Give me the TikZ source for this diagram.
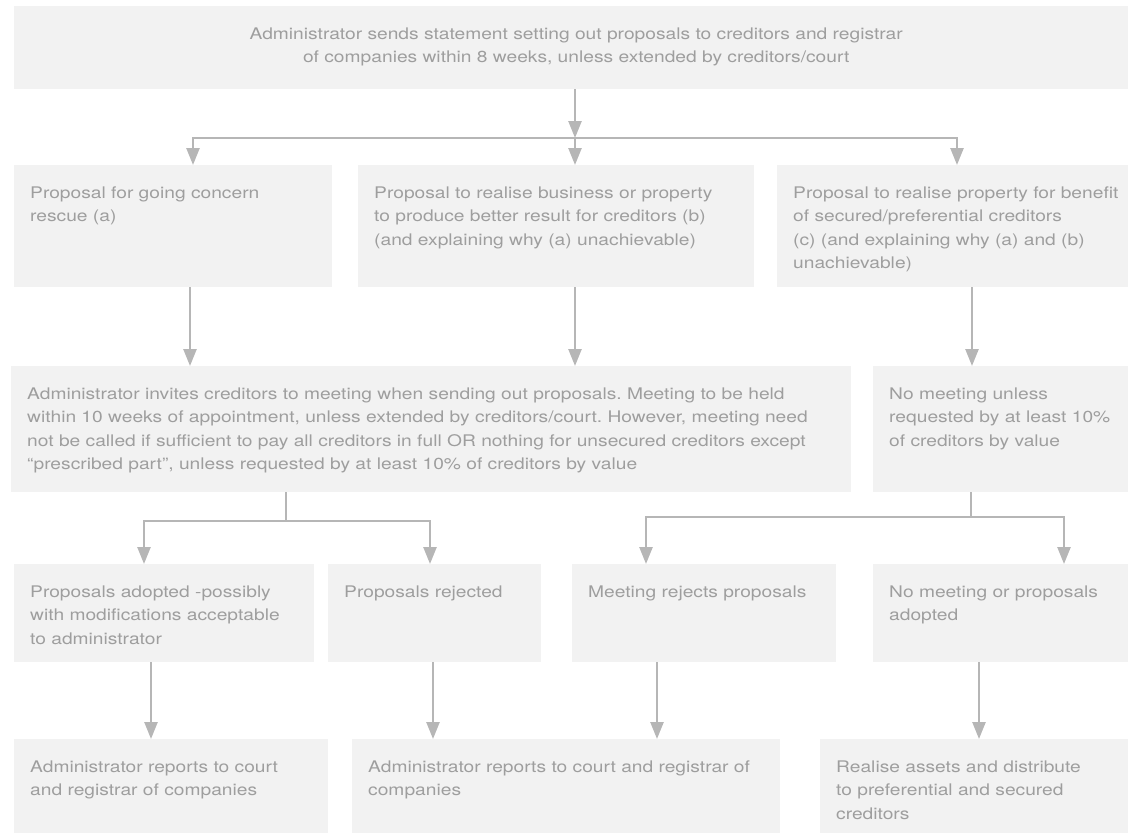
\documentclass[tikz,border=0pt]{standalone}
\usepackage{fontspec}
\setmainfont{TeX Gyre Heros}[FakeStretch=1.2]
\usepackage{xcolor}
\usepackage{tikz}
\usetikzlibrary{arrows.meta}
\frenchspacing
\definecolor{boxfill}{RGB}{242,242,242}
\definecolor{txtgray}{RGB}{158,158,158}
\definecolor{linegray}{RGB}{182,182,182}
\tikzstyle{stepbox} = [fill=boxfill, text=txtgray, anchor=north west, align=left, inner xsep=16pt, inner ysep=0pt, text height=33pt, font=\fontsize{16pt}{23.5pt}\selectfont]
\tikzstyle{link} = [draw=linegray, line width=2.5pt]
\tikzstyle{arrow} = [link, -{Triangle[width=13pt,length=17pt]}]

\begin{document}
\begin{tikzpicture}[x=1pt, y=-1pt]
    \useasboundingbox (0,0) rectangle (1128,833);

    % 顶部
    \node[stepbox, align=center, text width=1092pt, text depth=50pt] (top) at (14,6)
        {Administrator sends statement setting out proposals to creditors and registrar\\of companies within 8 weeks, unless extended by creditors/court};

    % 三种方案
    \node[stepbox, text width=286pt, text depth=89pt] (resc) at (14,165)
        {Proposal for going concern\\rescue (a)};
    \node[stepbox, text width=364pt, text depth=89pt] (real) at (358,165)
        {Proposal to realise business or property\\to produce better result for creditors (b)\\(and explaining why (a) unachievable)};
    \node[stepbox, text width=340pt, text depth=89pt] (secd) at (777,165)
        {Proposal to realise property for benefit\\of secured/preferential creditors\\(c) (and explaining why (a) and (b)\\unachievable)};

    % 会议
    \node[stepbox, text width=808pt, text depth=93pt] (meet) at (11,366)
        {Administrator invites creditors to meeting when sending out proposals. Meeting to be held\\within 10 weeks of appointment, unless extended by creditors/court. However, meeting need\\not be called if sufficient to pay all creditors in full OR nothing for unsecured creditors except\\“prescribed part”, unless requested by at least 10\% of creditors by value};
    \node[stepbox, text width=240pt, text depth=93pt] (nomeet) at (873,366)
        {No meeting unless\\requested by at least 10\%\\of creditors by value};

    % 结果
    \node[stepbox, text width=268pt, text depth=65pt] (adopt) at (14,564)
        {Proposals adopted -possibly\\with modifications acceptable\\to administrator};
    \node[stepbox, text width=181pt, text depth=65pt] (rej) at (328,564)
        {Proposals rejected};
    \node[stepbox, text width=232pt, text depth=65pt] (mrej) at (572,564)
        {Meeting rejects proposals};
    \node[stepbox, text width=240pt, text depth=65pt] (noadopt) at (873,564)
        {No meeting or proposals\\adopted};

    % 最后一步
    \node[stepbox, text width=282pt, text depth=61pt] (rep1) at (14,739)
        {Administrator reports to court\\and registrar of companies};
    \node[stepbox, text width=396pt, text depth=61pt] (rep2) at (352,739)
        {Administrator reports to court and registrar of\\companies};
    \node[stepbox, text width=300pt, text depth=61pt] (dist) at (820,739)
        {Realise assets and distribute\\to preferential and secured\\creditors};

    % 连线
    \coordinate (fa) at (193,138);
    \coordinate (fb) at (575,138);
    \coordinate (fc) at (957,138);
    \draw[arrow] (top.south -| fb) -- (fb);
    \draw[arrow] (fb) -- (fa) -- (fa |- resc.north);
    \draw[arrow] (fb) -- (fc) -- (fc |- secd.north);
    \draw[arrow] (fb) -- (fb |- real.north);

    \draw[arrow] ([xshift=176pt]resc.south west) -- ([xshift=176pt]resc.south west |- meet.north);
    \draw[arrow] ([xshift=217pt]real.south west) -- ([xshift=217pt]real.south west |- meet.north);
    \draw[arrow] ([xshift=195pt]secd.south west) -- ([xshift=195pt]secd.south west |- nomeet.north);

    \coordinate (fd) at (286,521);
    \coordinate (ff) at (144,521);
    \coordinate (fg) at (430,521);
    \draw[link] (meet.south -| fd) -- (fd);
    \draw[arrow] (fd) -- (ff) -- (ff |- adopt.north);
    \draw[arrow] (fd) -- (fg) -- (fg |- rej.north);

    \coordinate (fe) at (971,517);
    \coordinate (fi) at (646,517);
    \coordinate (fj) at (1064,517);
    \draw[link] (nomeet.south -| fe) -- (fe);
    \draw[arrow] (fe) -- (fi) -- (fi |- mrej.north);
    \draw[arrow] (fe) -- (fj) -- (fj |- noadopt.north);

    \draw[arrow] ([xshift=137pt]adopt.south west) -- ([xshift=137pt]adopt.south west |- rep1.north);
    \draw[arrow] ([xshift=105pt]rej.south west) -- ([xshift=105pt]rej.south west |- rep2.north);
    \draw[arrow] ([xshift=85pt]mrej.south west) -- ([xshift=85pt]mrej.south west |- rep2.north);
    \draw[arrow] ([xshift=106pt]noadopt.south west) -- ([xshift=106pt]noadopt.south west |- dist.north);
\end{tikzpicture}
\end{document}
